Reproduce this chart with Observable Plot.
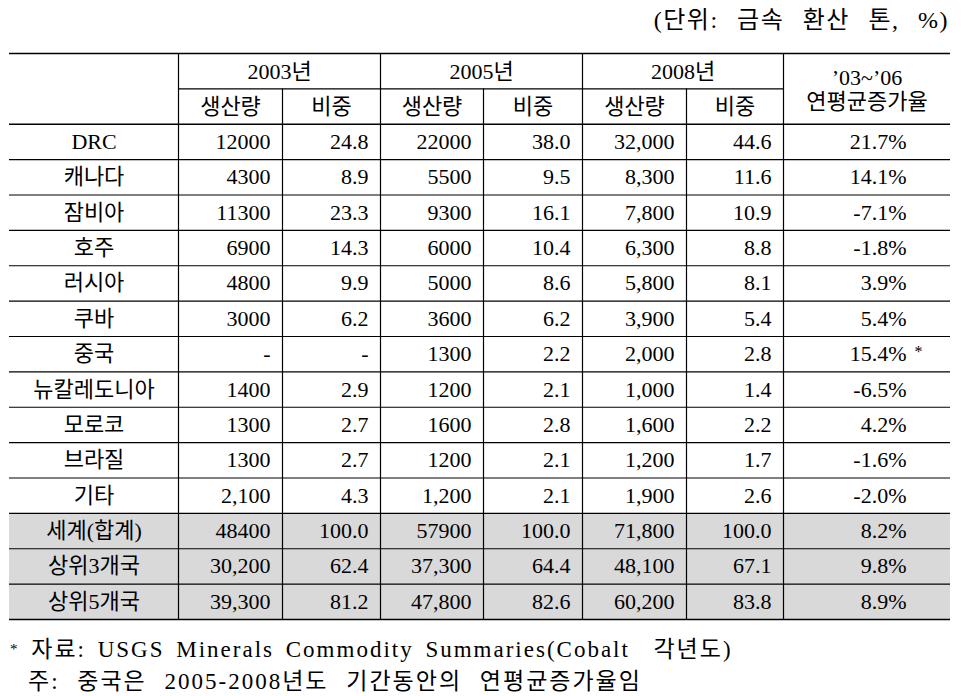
<!DOCTYPE html>
<html><head><meta charset="utf-8">
<script src="https://cdn.jsdelivr.net/npm/d3@7"></script>
<script src="https://cdn.jsdelivr.net/npm/@observablehq/plot@0.6"></script>
<style>
body{margin:0;background:#fff;width:963px;height:696px;overflow:hidden;font-family:"Liberation Serif","Noto Sans CJK KR",serif;color:#000}
#title{height:52px;box-sizing:border-box;padding-top:6px;padding-right:14px;text-align:right;font-size:24px;line-height:28px;word-spacing:11px;letter-spacing:1.5px}
#chart svg{display:block}
#caption{font-size:23px;line-height:32px;margin-top:11px;letter-spacing:2px}
#caption .l1{padding-left:10px;word-spacing:4px}
#caption .l2{padding-left:28px;word-spacing:10px}
#caption .ast{font-size:15px;vertical-align:3px}
</style></head><body>
<div id="title">(단위: 금속 환산 톤, %)</div>
<div id="chart"></div>
<div id="caption"><div class="l1"><span class="ast">*</span> 자료: USGS Minerals Commodity Summaries(Cobalt&nbsp; 각년도)</div><div class="l2">주: 중국은 2005-2008년도 기간동안의 연평균증가율임</div></div>
<script>
// ---- data ----
const years = ["2003년", "2005년", "2008년"];
const subHeaders = ["생산량", "비중"];
const growthHeader = "’03~’06\n연평균증가율";
const countries = ["DRC", "캐나다", "잠비아", "호주", "러시아", "쿠바", "중국", "뉴칼레도니아", "모로코", "브라질", "기타", "세계(합계)", "상위3개국", "상위5개국"];
const prod2003 = ["12000", "4300", "11300", "6900", "4800", "3000", "-", "1400", "1300", "1300", "2,100", "48400", "30,200", "39,300"];
const share2003 = [24.8, 8.9, 23.3, 14.3, 9.9, 6.2, null, 2.9, 2.7, 2.7, 4.3, 100.0, 62.4, 81.2];
const prod2005 = ["22000", "5500", "9300", "6000", "5000", "3600", "1300", "1200", "1600", "1200", "1,200", "57900", "37,300", "47,800"];
const share2005 = [38.0, 9.5, 16.1, 10.4, 8.6, 6.2, 2.2, 2.1, 2.8, 2.1, 2.1, 100.0, 64.4, 82.6];
const prod2008 = ["32,000", "8,300", "7,800", "6,300", "5,800", "3,900", "2,000", "1,000", "1,600", "1,200", "1,900", "71,800", "48,100", "60,200"];
const share2008 = [44.6, 11.6, 10.9, 8.8, 8.1, 5.4, 2.8, 1.4, 2.2, 1.7, 2.6, 100.0, 67.1, 83.8];
const growth = [21.7, 14.1, -7.1, -1.8, 3.9, 5.4, 15.4, -6.5, 4.2, -1.6, -2.0, 8.2, 9.8, 8.9];
const growthNote = ["", "", "", "", "", "", "*", "", "", "", "", "", "", ""];
const shadedRows = ["세계(합계)", "상위3개국", "상위5개국"];

// ---- layout ----
const colEdges = [9, 178, 282, 380, 483, 582, 686, 783, 950];
const headerRows = 2;
const nRows = headerRows + countries.length;
const pad = 12;
const growthRight = 906;
const font = "'Liberation Serif', 'Noto Sans CJK KR', serif";
const fs = 22;

const fmt = v => v == null ? "-" : v.toFixed(1);

const nameCells = [], numCells = [], noteCells = [];
countries.forEach((name, i) => {
  const y = headerRows + i + 0.5;
  nameCells.push({x: (colEdges[0] + colEdges[1]) / 2, y, label: name});
  const vals = [prod2003[i], fmt(share2003[i]), prod2005[i], fmt(share2005[i]), prod2008[i], fmt(share2008[i])];
  vals.forEach((v, j) => numCells.push({x: colEdges[j + 2] - pad, y, label: v}));
  numCells.push({x: growthRight, y, label: growth[i].toFixed(1) + "%"});
  if (growthNote[i]) noteCells.push({x: growthRight + 8, y, label: growthNote[i]});
});

const headCells = [];
years.forEach((yr, k) => {
  const a = colEdges[1 + 2 * k], b = colEdges[3 + 2 * k];
  headCells.push({x: (a + b) / 2, y: 0.5, label: yr});
  subHeaders.forEach((s, j) => {
    headCells.push({x: (colEdges[1 + 2 * k + j] + colEdges[2 + 2 * k + j]) / 2, y: 1.5, label: s});
  });
});
headCells.push({x: (colEdges[7] + colEdges[8]) / 2, y: 1, label: growthHeader});

const shaded = shadedRows.map(n => headerRows + countries.indexOf(n));

const hLines = [];
hLines.push({y: 0, x1: colEdges[0], x2: colEdges[8], w: 1.6});
hLines.push({y: 1, x1: colEdges[1], x2: colEdges[7], w: 1.2});
for (let r = headerRows; r <= nRows; r++) hLines.push({y: r, x1: colEdges[0], x2: colEdges[8], w: r === headerRows || r === nRows ? 1.5 : 1.2});

const vLines = [];
for (let c = 1; c <= 7; c++) vLines.push({x: colEdges[c], y1: (c % 2 === 0) ? 1 : 0, y2: nRows});

const chart = Plot.plot({
  width: 963,
  height: 570,
  margin: 0,
  style: {fontFamily: font, fontSize: fs + "px", background: "transparent"},
  x: {type: "linear", domain: [0, 963], range: [0, 963], axis: null},
  y: {type: "linear", domain: [0, nRows], range: [1, 567], axis: null},
  marks: [
    Plot.rect(shaded, {x1: () => colEdges[0], x2: () => colEdges[8], y1: d => d, y2: d => d + 1, fill: "#d9d9d9"}),
    Plot.ruleY(hLines, {y: "y", x1: "x1", x2: "x2", strokeWidth: d => d.w, stroke: "#000"}),
    Plot.ruleX(vLines, {x: "x", y1: "y1", y2: "y2", stroke: "#000", strokeWidth: 1.2}),
    Plot.text(headCells, {x: "x", y: "y", text: "label", fontSize: fs, fontFamily: font, textAnchor: "middle", lineAnchor: "middle", lineHeight: 1.1}),
    Plot.text(nameCells, {x: "x", y: "y", text: "label", fontSize: fs, fontFamily: font, textAnchor: "middle", lineAnchor: "middle"}),
    Plot.text(numCells, {x: "x", y: "y", text: "label", fontSize: fs, fontFamily: font, textAnchor: "end", lineAnchor: "middle"}),
    Plot.text(noteCells, {x: "x", y: "y", text: "label", fontSize: 16, fontFamily: font, textAnchor: "start", lineAnchor: "middle", dy: -2})
  ]
});
document.getElementById("chart").appendChild(chart);
</script>
</body></html>
